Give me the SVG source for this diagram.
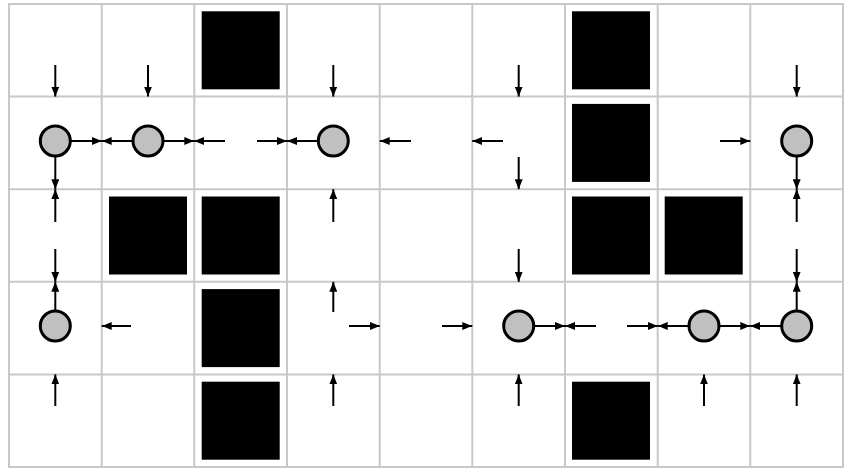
<svg xmlns="http://www.w3.org/2000/svg" width="849" height="473" viewBox="0 0 849 473">
<defs>
<marker id="ah" markerWidth="10" markerHeight="8" refX="10" refY="4" orient="auto" markerUnits="userSpaceOnUse"><path d="M0,0 L10,4 L0,8 z" fill="#000"/></marker>
<style>
.g{stroke:#c8c8c8;stroke-width:2;fill:none}
.b{fill:#000}
.n{fill:#c0c0c0;stroke:#000;stroke-width:3}
.a{stroke:#000;stroke-width:2;fill:none;marker-end:url(#ah)}
</style>
</defs>
<rect width="849" height="473" fill="#fff"/>
<g id="grid" class="g">
<rect x="9" y="4" width="834" height="463"/>
<path d="M101.7,4V467M194.3,4V467M287,4V467M379.7,4V467M472.3,4V467M565,4V467M657.7,4V467M750.3,4V467M9,96.6H843M9,189.2H843M9,281.8H843M9,374.4H843"/>
</g>
<g id="walls" class="b">
<rect x="201.7" y="11.3" width="78" height="78"/>
<rect x="572" y="11.3" width="78" height="78"/>
<rect x="572" y="103.9" width="78" height="78"/>
<rect x="109" y="196.5" width="78" height="78"/>
<rect x="201.7" y="196.5" width="78" height="78"/>
<rect x="572" y="196.5" width="78" height="78"/>
<rect x="664.7" y="196.5" width="78" height="78"/>
<rect x="201.7" y="289.1" width="78" height="78"/>
<rect x="201.7" y="381.7" width="78" height="78"/>
<rect x="572" y="381.7" width="78" height="78"/>
</g>
<g id="connectors">
<path class="a" d="M55.3,65V96.6"/><path class="a" d="M148,65V96.6"/><path class="a" d="M333.3,65V96.6"/><path class="a" d="M518.7,65V96.6"/><path class="a" d="M796.7,65V96.6"/>
<path class="a" d="M55.3,157V189.2"/><path class="a" d="M518.7,157V189.2"/><path class="a" d="M796.7,157V189.2"/>
<path class="a" d="M55.3,222V189.2"/><path class="a" d="M333.3,222V189.2"/><path class="a" d="M796.7,222V189.2"/>
<path class="a" d="M55.3,249V281.8"/><path class="a" d="M518.7,249V281.8"/><path class="a" d="M796.7,249V281.8"/>
<path class="a" d="M55.3,310V281.8"/><path class="a" d="M333.3,312V281.8"/><path class="a" d="M796.7,310V281.8"/>
<path class="a" d="M55.3,406V374.4"/><path class="a" d="M333.3,406V374.4"/><path class="a" d="M518.7,406V374.4"/><path class="a" d="M704,406V374.4"/><path class="a" d="M796.7,406V374.4"/>
<path class="a" d="M71,141H101.7"/><path class="a" d="M132,141H101.7"/><path class="a" d="M164,141H194.3"/><path class="a" d="M225,141H194.3"/><path class="a" d="M257,141H287"/><path class="a" d="M318,141H287"/><path class="a" d="M411,141H379.7"/><path class="a" d="M503,141H472.3"/><path class="a" d="M720,141H750.3"/>
<path class="a" d="M131,326H101.7"/><path class="a" d="M349,326H379.7"/><path class="a" d="M442,326H472.3"/><path class="a" d="M534,326H565"/><path class="a" d="M596,326H565"/><path class="a" d="M627,326H657.7"/><path class="a" d="M688,326H657.7"/><path class="a" d="M720,326H750.3"/><path class="a" d="M781,326H750.3"/>
</g>
<g id="n1"><ellipse class="n" cx="55.3" cy="141" rx="15" ry="15"/></g>
<g id="n2"><ellipse class="n" cx="148" cy="141" rx="15" ry="15"/></g>
<g id="n3"><ellipse class="n" cx="333.3" cy="141" rx="15" ry="15"/></g>
<g id="n4"><ellipse class="n" cx="796.7" cy="141" rx="15" ry="15"/></g>
<g id="n5"><ellipse class="n" cx="55.3" cy="326" rx="15" ry="15"/></g>
<g id="n6"><ellipse class="n" cx="518.7" cy="326" rx="15" ry="15"/></g>
<g id="n7"><ellipse class="n" cx="704" cy="326" rx="15" ry="15"/></g>
<g id="n8"><ellipse class="n" cx="796.7" cy="326" rx="15" ry="15"/></g>
</svg>
